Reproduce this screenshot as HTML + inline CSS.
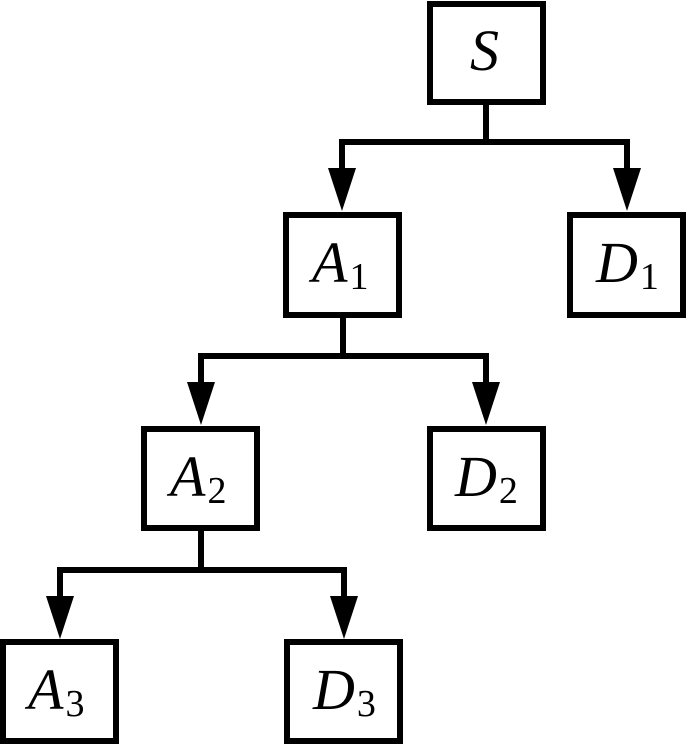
<!DOCTYPE html>
<html><head><style>
body{margin:0;background:#fff;position:relative;width:687px;height:744px;overflow:hidden}
svg{display:block;position:absolute;left:0;top:0}
.t{position:absolute;font-family:"Liberation Serif","DejaVu Serif",serif;font-size:58px;line-height:1;color:#000;white-space:nowrap}
.t i{font-style:italic}
.t sub{font-size:38px;vertical-align:baseline;position:relative;top:7px;margin-left:2px}
</style></head><body>
<svg width="687" height="744" viewBox="0 0 687 744">
<g fill="none" stroke="#000" stroke-width="6">
<rect x="430" y="4" width="113" height="98"/>
<rect x="286" y="215" width="113" height="100"/>
<rect x="570" y="215" width="113" height="100"/>
<rect x="144" y="429" width="113" height="99"/>
<rect x="430" y="429" width="113" height="99"/>
<rect x="3" y="642" width="113" height="99"/>
<rect x="287" y="642" width="113" height="99"/>
<path d="M486 102V142M339 142H630M342 142V170M627 142V170"/>
<path d="M343 315V356M198 356H489M201 356V384M486 356V384"/>
<path d="M201 528V570M57 570H347M60 570V598M344 570V598"/>
</g>
<g fill="#000">
<polygon points="328,168 356,168 342,211"/>
<polygon points="613,168 641,168 627,211"/>
<polygon points="187,382 215,382 201,425"/>
<polygon points="472,382 500,382 486,425"/>
<polygon points="46,596 74,596 60,639"/>
<polygon points="330,596 358,596 344,639"/>
</g>
</svg>
<div class="t" style="left:470px;top:22px"><i>S</i></div>
<div class="t" style="left:312px;top:234px"><i>A</i><sub>1</sub></div>
<div class="t" style="left:596px;top:234px"><i>D</i><sub>1</sub></div>
<div class="t" style="left:170px;top:448px"><i>A</i><sub>2</sub></div>
<div class="t" style="left:455px;top:448px"><i>D</i><sub>2</sub></div>
<div class="t" style="left:28px;top:661px"><i>A</i><sub>3</sub></div>
<div class="t" style="left:313px;top:661px"><i>D</i><sub>3</sub></div>
</body></html>
